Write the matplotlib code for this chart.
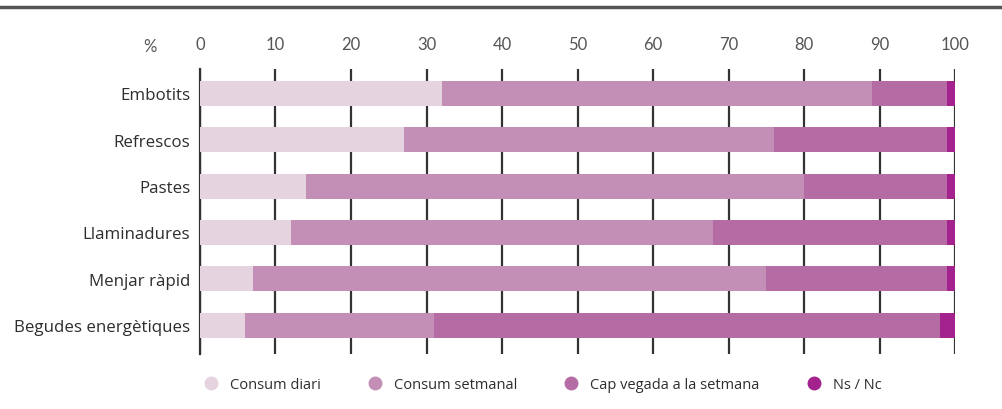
import matplotlib.pyplot as plt
from matplotlib.lines import Line2D
import numpy as np

categories = ['Embotits', 'Refrescos', 'Pastes', 'Llaminadures', 'Menjar ràpid', 'Begudes energètiques']
diari = [32, 27, 14, 12, 7, 6]
setmanal = [57, 49, 66, 56, 68, 25]
cap_vegada = [10, 23, 19, 31, 24, 67]
ns_nc = [1, 1, 1, 1, 1, 2]

series = [
    ('Consum diari', diari, '#e6d3e0'),
    ('Consum setmanal', setmanal, '#c48fb6'),
    ('Cap vegada a la setmana', cap_vegada, '#b56ca4'),
    ('Ns / Nc', ns_nc, '#a3228d'),
]

plt.rcParams['font.family'] = ['Open Sans', 'DejaVu Sans']

fig = plt.figure(figsize=(10.02, 4.10), dpi=100)
ax = fig.add_axes([0.1996, 0.134, 0.7535, 0.695])

y = np.arange(len(categories))
left = np.zeros(len(categories))
for label, vals, color in series:
    ax.barh(y, vals, left=left, height=0.54, color=color, label=label, zorder=3)
    left += np.array(vals)

ax.set_xlim(0, 100)
ax.set_ylim(5.62, -0.52)
ax.set_xticks(np.arange(0, 101, 10))
ax.xaxis.tick_top()
ax.tick_params(axis='x', length=0, pad=12, labelsize=12, labelcolor='#555555')
for t in ax.get_xticklabels():
    t.set_family(['Lato', 'DejaVu Sans'])
ax.set_yticks(y)
ax.set_yticklabels(categories)
ax.tick_params(axis='y', length=0, pad=7, labelsize=12.2, labelcolor='#2e2e2e')
ax.xaxis.grid(True, color='#333333', linewidth=1.6, zorder=1)
for s in ['top', 'right', 'bottom']:
    ax.spines[s].set_visible(False)
ax.spines['left'].set_color('#333333')
ax.spines['left'].set_linewidth(1.6)

fig.text(0.150, 0.885, '%', fontsize=12, color='#555555', ha='center', va='center',
         family=['Lato', 'DejaVu Sans'])

# horizontal rule at top
fig.add_artist(Line2D([0, 1], [0.980, 0.980], transform=fig.transFigure, color='#555555', linewidth=2.5))

handles = [Line2D([], [], marker='o', linestyle='', markersize=9, markerfacecolor=c, markeredgecolor=c)
           for _, _, c in series]
fig.legend(handles, [s[0] for s in series], loc='center', bbox_to_anchor=(0.538, 0.06), ncol=4,
           frameon=False, fontsize=10.5, handletextpad=0.3, columnspacing=2.7, labelcolor='#2e2e2e')

fig.savefig('out.png', dpi=100)
